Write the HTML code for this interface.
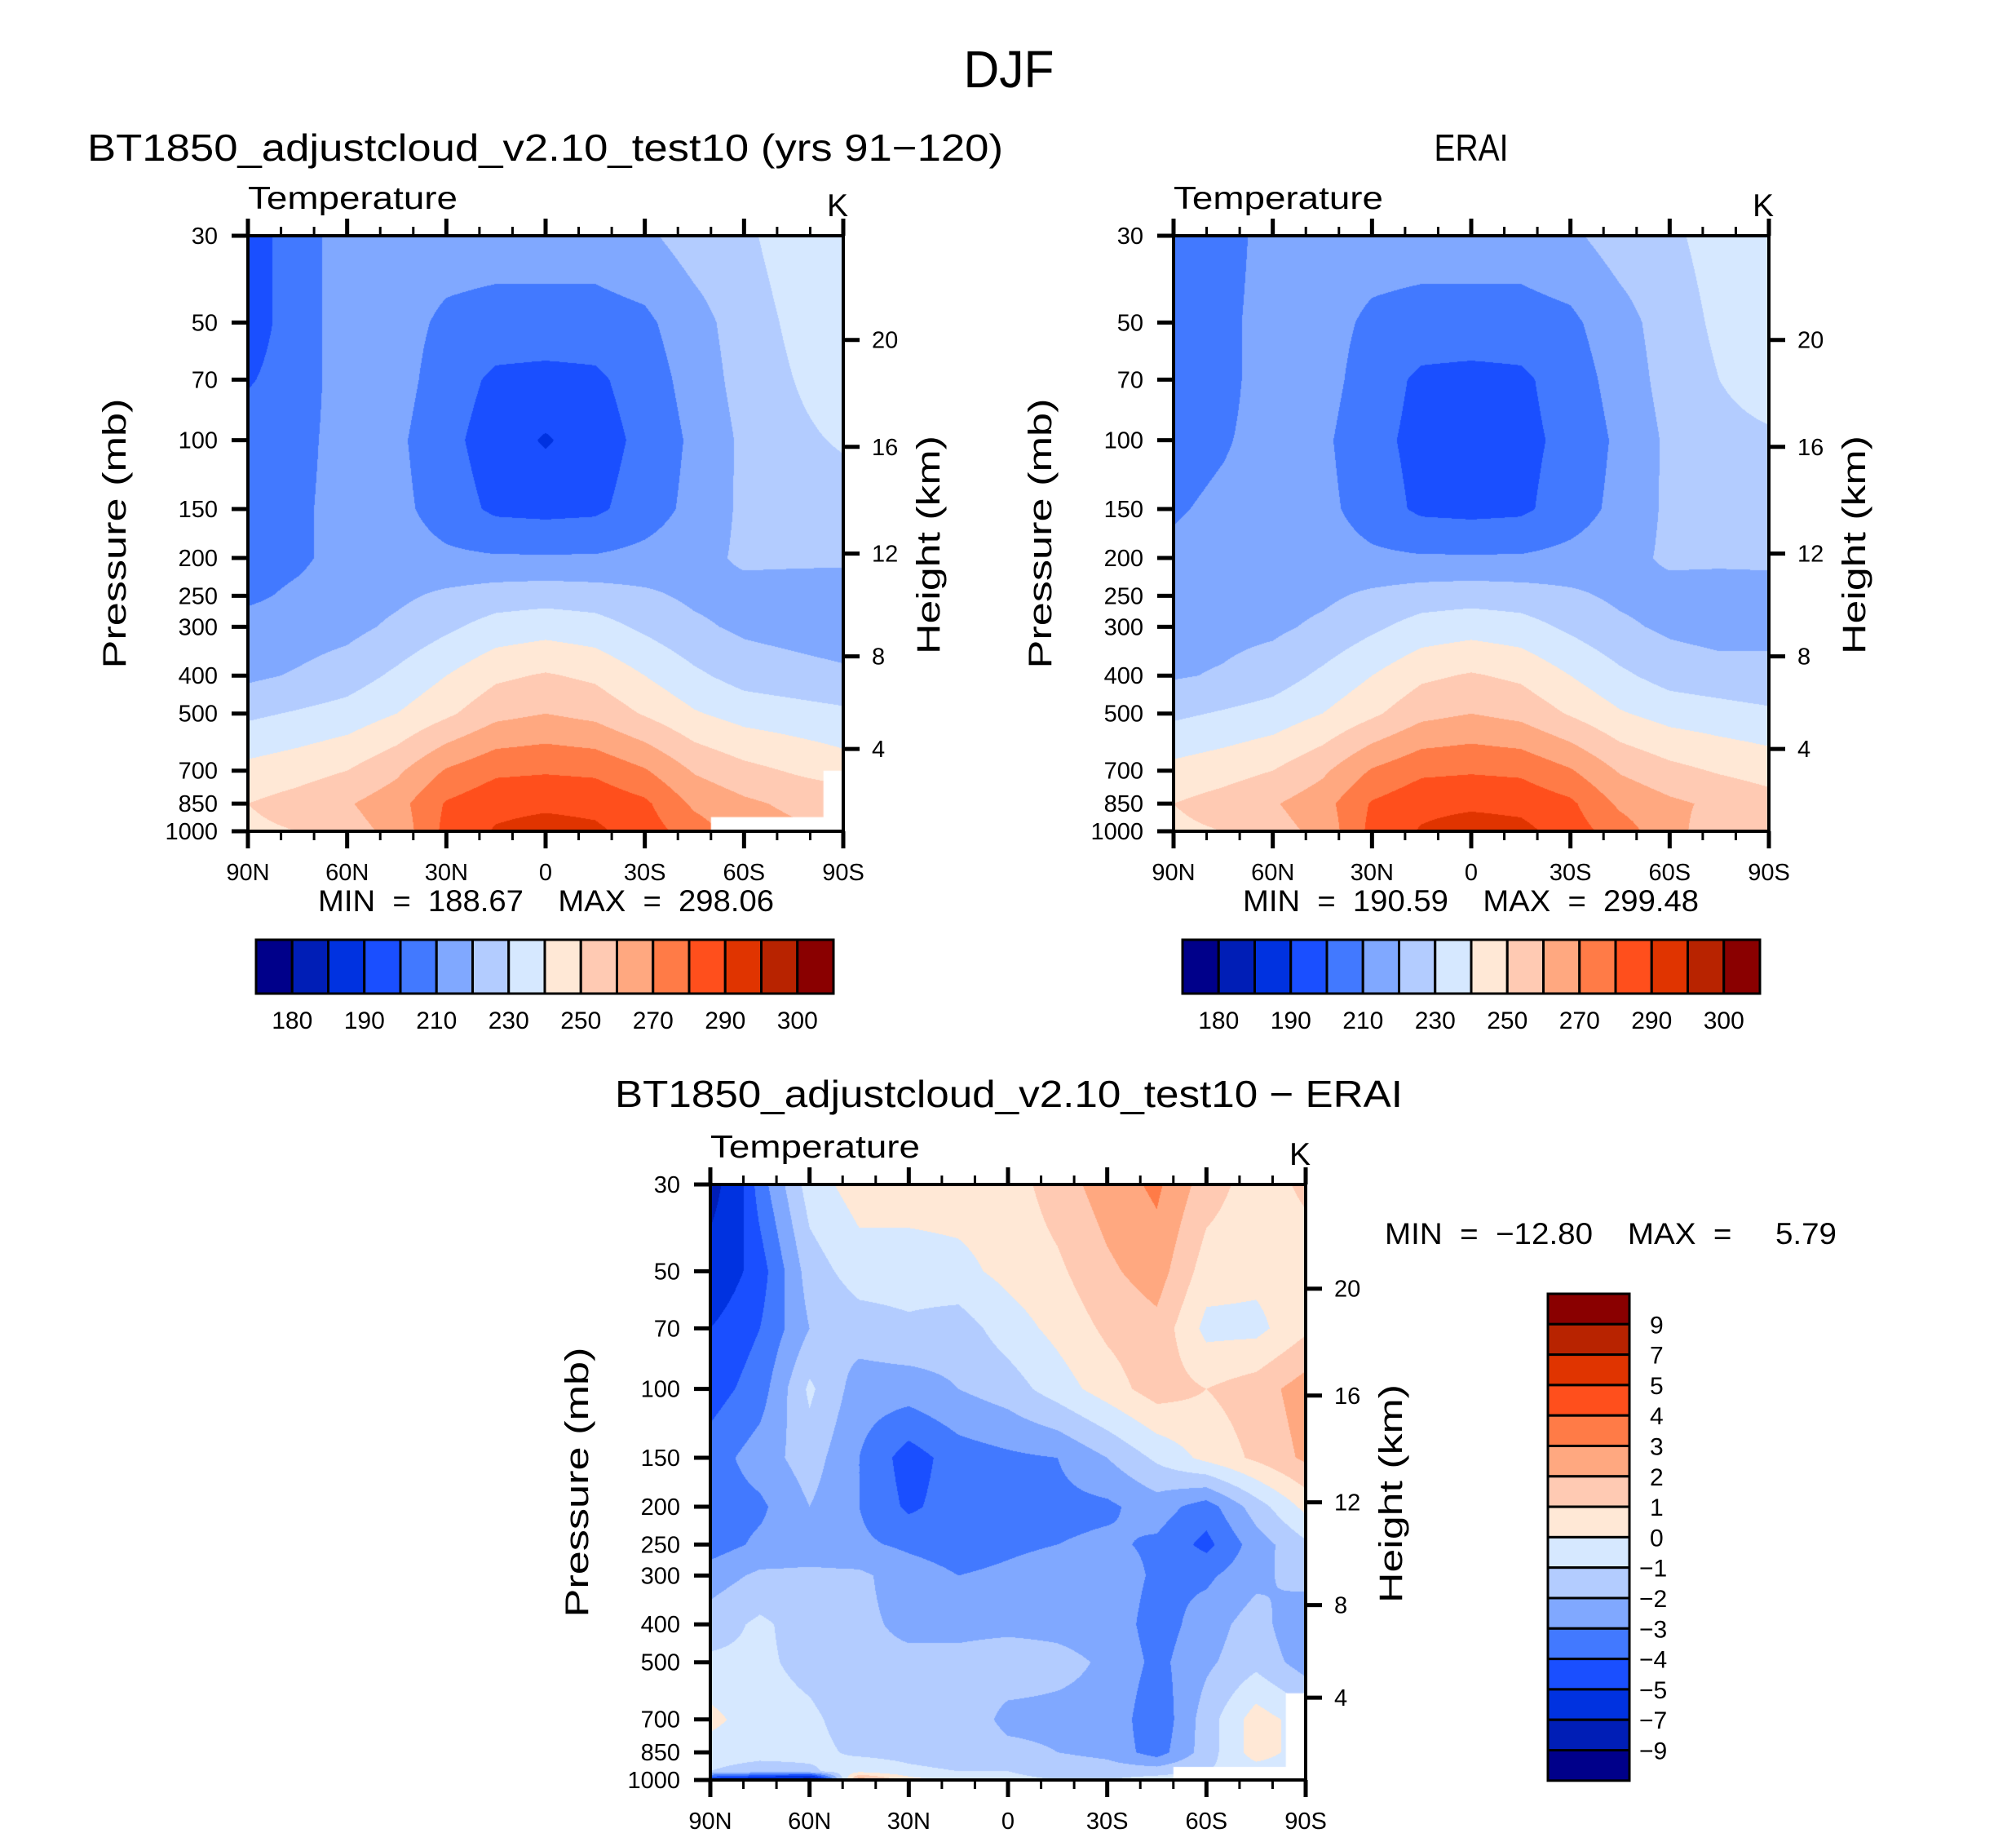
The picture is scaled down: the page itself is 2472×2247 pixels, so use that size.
<!DOCTYPE html>
<html><head><meta charset="utf-8">
<style>
html,body{margin:0;padding:0;background:#fff;}
#wrap{position:relative;width:2472px;height:2247px;overflow:hidden;background:#fff;}
canvas{position:absolute;}
svg{position:absolute;left:0;top:0;}
text{font-family:"Liberation Sans",sans-serif;fill:#000;}
</style></head>
<body>
<div id="wrap">
<canvas id="c1" width="730" height="730" style="left:304px;top:289px"></canvas>
<canvas id="c2" width="730" height="730" style="left:1439px;top:289px"></canvas>
<canvas id="c3" width="730" height="730" style="left:871px;top:1452px"></canvas>
<svg id="svg" width="2472" height="2247"></svg>
</div>
<script>
// ---------- data ----------
const lats = [90,75,60,45,30,15,0,-15,-30,-45,-60,-75,-90];
const tLevs = [30,50,70,100,150,200,250,300,400,500,700,850,1000];
const dLevs = [30,50,70,100,150,200,250,300,400,500,700,850,950,1000];
const tempLevels = [180,185,190,200,210,220,230,240,250,260,270,280,290,295,300];
const tempLabels = ["180","190","210","230","250","270","290","300"];
const diffLevels = [-9,-7,-5,-4,-3,-2,-1,0,1,2,3,4,5,7,9];
const diffLabels = ["-9","-7","-5","-4","-3","-2","-1","0","1","2","3","4","5","7","9"];
const palette = ["#00008a","#001eb6","#0032e0","#1a4fff","#4279ff","#80a8ff","#b3ccff","#d6e8ff",
                 "#ffe8d6","#ffcab3","#ffa880","#ff7b47","#ff4f1c","#e03400","#b82300","#8a0000"];
const pTicks = [30,50,70,100,150,200,250,300,400,500,700,850,1000];
const hTicks = [20,16,12,8,4];
const hTickP = [55.4,104,195,357,616];
const latTicks = [90,60,30,0,-30,-60,-90];
const latTickLabels = ["90N","60N","30N","0","30S","60S","90S"];

const modelT = [
 [195,205,215,215,215,215,215,215,218,225,228,235,235],
 [195,205,215,214,208,206,206,206,208,216,225,232,236],
 [199,205,215,214,205,198,197,198,205,214,224,230,235],
 [205,207,214,212,203,195,189,195,203,212,222,228,231],
 [205,208,214,213,205,198,197,198,205,213,222,225,226],
 [205,208,214,215,212,211,211,211,213,216,222,222,222],
 [208,212,215,218,222,225,226,225,222,218,216,215,214],
 [214,215,217,222,228,234,236,234,228,222,218,216,214],
 [218,221,225,232,240,248,251,248,240,232,226,224,222],
 [228,231,234,240,248,257,260,257,249,241,236,234,232],
 [243,246,250,258,271,278,279,278,271,259,253,249,245],
 [250,254,259,266,281,287,288,287,282,268,262,258,257],
 [248,250,256,263,283,291,294,292,285,275,265,262,260]
];
const eraiT = [
 [203,205,215,215,215,215,215,215,218,225,228,234,234],
 [203,207,215,214,208,206,206,206,208,216,225,232,234],
 [204,207,215,214,205,198,197,198,205,214,224,230,233],
 [206,209,214,212,203,197,195,197,203,212,222,228,229],
 [209,212,214,213,205,198,197,198,205,213,222,225,226],
 [212,214,215,215,212,211,211,211,213,216,222,222,222],
 [214,215,216,218,222,225,226,225,222,218,216,215,216],
 [216,217,218,222,228,234,236,234,228,222,218,216,218],
 [219,221,225,232,240,248,251,248,240,232,226,224,222],
 [228,231,234,240,248,257,260,257,249,241,236,234,232],
 [243,246,250,258,271,278,279,278,271,259,253,249,246],
 [250,254,259,266,281,287,288,287,282,268,262,258,254],
 [248,250,256,263,283,291,295,293,285,275,263,255,250]
];
const diffT = [
 [-8,-3.5,-0.5,0.5,0.5,0.5,0.5,1.5,2.5,3.2,1.5,0.5,1.2],
 [-6,-4.5,-1.5,-0.5,-0.5,-0.3,0.3,0.8,1.8,2.5,0.5,0.3,0.5],
 [-5,-4,-2,-1.5,-1.2,-1.5,-0.5,0.3,1.2,1.7,-0.3,-0.3,0.8],
 [-4.5,-3.5,-0.8,-2.5,-2.5,-2,-1.5,-0.5,0.5,1.5,1.0,1.5,2.5],
 [-3.5,-2.5,-1.5,-3,-4.5,-3.5,-3.2,-3,-2,-0.8,0.3,1.2,2.2],
 [-3.5,-3.2,-2,-3,-4.2,-3.5,-3.5,-3.3,-3.2,-2.5,-3.5,-1.5,0.3],
 [-3.5,-2.8,-2.5,-2.8,-3.2,-3.5,-3.2,-3.0,-2.8,-3.2,-4.3,-2.5,-1.2],
 [-2.5,-1.8,-1.8,-1.8,-2.5,-3,-2.8,-2.5,-2.3,-3.2,-3.2,-2.3,-1.5],
 [-1.5,-0.8,-1.5,-1.8,-2.2,-2.2,-2.2,-2.2,-2.3,-3.5,-2.5,-1.5,-3],
 [-0.8,-0.8,-1.3,-1.8,-1.8,-1.8,-1.6,-1.8,-2.1,-3.3,-2.2,-1.3,-2.5],
 [0.3,-0.6,-0.8,-1.5,-1.3,-1.5,-2.2,-2.2,-2.2,-3.8,-1.5,0.5,-0.5],
 [-0.5,-0.6,-0.7,-1.2,-1.3,-1.5,-1.8,-2.0,-2.3,-3.5,-1.5,0.5,-0.5],
 [-1,-1.5,-1.2,-0.3,-0.8,-1,-1,-1.3,-1.5,-1.5,-1,-0.5,-0.5],
 [-6,-7,-9,3,0.5,-0.5,-0.8,-1.0,-1.0,-0.5,0,0,0]
];
// missing-data regions: [lat1, lat2, p1, p2]
const modelMissing = [[-50,-84,920,1000],[-84,-90,700,1000]];
const diffMissing = [[-50,-84,926,1000],[-84,-90,600,1000]];

// ---------- rendering ----------
const P0 = 30, P1 = 1000, LR = Math.log(P1/P0);
function drawField(id, levs, vals, levels, missing){
  const cv = document.getElementById(id), ctx = cv.getContext('2d');
  const W = cv.width, H = cv.height;
  const img = ctx.createImageData(W,H);
  const rgb = palette.map(c=>[parseInt(c.substr(1,2),16),parseInt(c.substr(3,2),16),parseInt(c.substr(5,2),16)]);
  const lp = levs.map(p=>Math.log(p));
  const nl = lats.length;
  for(let y=0;y<H;y++){
    const p = P0*Math.exp((y+0.5)/H*LR), l = Math.log(p);
    let j=0; while(j<levs.length-2 && l>lp[j+1]) j++;
    let fy=(l-lp[j])/(lp[j+1]-lp[j]); fy=Math.max(0,Math.min(1,fy));
    for(let x=0;x<W;x++){
      const fx=(x+0.5)/W*(nl-1); let i=Math.min(nl-2,Math.floor(fx)); const tx=fx-i;
      const v=(vals[j][i]*(1-tx)+vals[j][i+1]*tx)*(1-fy)+(vals[j+1][i]*(1-tx)+vals[j+1][i+1]*tx)*fy;
      let k=0; while(k<levels.length && v>=levels[k]) k++;
      const c=rgb[k], o=(y*W+x)*4;
      img.data[o]=c[0];img.data[o+1]=c[1];img.data[o+2]=c[2];img.data[o+3]=255;
    }
  }
  ctx.putImageData(img,0,0);
  ctx.fillStyle='#fff';
  missing.forEach(m=>{
    const x1=(90-m[0])/180*W, x2=(90-m[1])/180*W;
    const y1=Math.log(m[2]/P0)/LR*H, y2=Math.log(m[3]/P0)/LR*H;
    ctx.fillRect(Math.min(x1,x2),y1,Math.abs(x2-x1)+1,y2-y1+1);
  });
}
drawField('c1',tLevs,modelT,tempLevels,modelMissing);
drawField('c2',tLevs,eraiT,tempLevels,[]);
drawField('c3',dLevs,diffT,diffLevels,diffMissing);

// ---------- svg overlay ----------
const svg=document.getElementById('svg'), NS='http://www.w3.org/2000/svg';
function el(tag,attrs,parent){const e=document.createElementNS(NS,tag);for(const k in attrs)e.setAttribute(k,attrs[k]);(parent||svg).appendChild(e);return e;}
function txt(s,attrs,parent){const e=el('text',attrs,parent);e.textContent=s;return e;}

function axes(name,X,Y,S){
  const g=el('g',{});
  
  
  const xs=lat=>X+(90-lat)/180*S, ys=p=>Y+Math.log(p/P0)/LR*S;
  el('rect',{x:X,y:Y,width:S,height:S,fill:'none',stroke:'#000','stroke-width':4},g);
  for(let lat=90;lat>=-90;lat-=10){
    const major=latTicks.indexOf(lat)>=0, L=major?21:11, w=major?5:3;
    el('line',{x1:xs(lat),x2:xs(lat),y1:Y+S,y2:Y+S+L,stroke:'#000','stroke-width':w},g);
    el('line',{x1:xs(lat),x2:xs(lat),y1:Y,y2:Y-L,stroke:'#000','stroke-width':w},g);
  }
  latTicks.forEach((lat,i)=>{
    const t=txt(latTickLabels[i],{x:xs(lat),y:Y+S+60,'font-size':29,'text-anchor':'middle'},g);
    
    
  });
  pTicks.forEach(p=>{
    el('line',{x1:X-20,x2:X,y1:ys(p),y2:ys(p),stroke:'#000','stroke-width':5},g);
    const t=txt(String(p),{x:X-37,y:ys(p)+10,'font-size':29,'text-anchor':'end'},g);
    
    
  });
  hTicks.forEach((h,i)=>{
    const yy=ys(hTickP[i]);
    el('line',{x1:X+S,x2:X+S+20,y1:yy,y2:yy,stroke:'#000','stroke-width':5},g);
    const t=txt(String(h),{x:X+S+35,y:yy+10,'font-size':29},g);
    
    
  });
  const t1=txt('Temperature',{x:X,y:Y-33,'font-size':39,textLength:257,lengthAdjust:'spacingAndGlyphs'},g);
  
  
  const t2=txt('K',{x:X+S-20,y:Y-24,'font-size':39},g);
  
  
  const cy=Y+S/2, px=X-150, hx=X+S+118;
  const t3=txt('Pressure  (mb)',{x:px,y:cy,'font-size':40,'text-anchor':'middle',transform:`rotate(-90 ${px} ${cy})`,textLength:331,lengthAdjust:'spacingAndGlyphs'},g);
  
  
  const t4=txt('Height  (km)',{x:hx,y:cy+14,'font-size':40,'text-anchor':'middle',transform:`rotate(-90 ${hx} ${cy+14})`,textLength:268,lengthAdjust:'spacingAndGlyphs'},g);
  
  
}
axes('model',304,289,730);
axes('erai',1439,289,730);
axes('diff',871,1452,730);

function hbar(name,X,Y,W,H){
  const g=el('g',{});
  
  
  const bw=W/palette.length;
  palette.forEach((c,i)=>{
    const r=el('rect',{x:X+i*bw,y:Y,width:bw,height:H,fill:c,stroke:'#000','stroke-width':3},g);
    
    
  });
  tempLabels.forEach((s,i)=>{
    const t=txt(s,{x:X+(1+2*i)*bw,y:Y+H+43,'font-size':30,'text-anchor':'middle'},g);
    
    
  });
}
hbar('model-colorbar',314,1152,708,66);
hbar('erai-colorbar',1450,1152,708,66);

(function(){
  const g=el('g',{});
  
  
  const X=1898,Y=1586,W=100,bh=37.3,n=palette.length;
  for(let i=0;i<n;i++){
    const r=el('rect',{x:X,y:Y+i*bh,width:W,height:bh,fill:palette[n-1-i],stroke:'#000','stroke-width':3},g);
    
    
  }
  for(let i=0;i<diffLabels.length;i++){
    const s=diffLabels[diffLabels.length-1-i].replace('-','\u2212');
    const t=txt(s,{x:s.startsWith('\u2212')?2010:2023,y:Y+(i+1)*bh+11,'font-size':30},g);
    
    
  }
})();

const T=[
 ['DJF',{x:1237,y:107,'font-size':64,'text-anchor':'middle',textLength:111,lengthAdjust:'spacingAndGlyphs'},'figure-title'],
 ['BT1850_adjustcloud_v2.10_test10 (yrs 91\u2212120)',{x:107,y:197,'font-size':46,textLength:1123,lengthAdjust:'spacingAndGlyphs'},'model-title'],
 ['ERAI',{x:1804,y:197,'font-size':46,'text-anchor':'middle',textLength:91,lengthAdjust:'spacingAndGlyphs'},'erai-title'],
 ['BT1850_adjustcloud_v2.10_test10 \u2212 ERAI',{x:754,y:1357,'font-size':46,textLength:966,lengthAdjust:'spacingAndGlyphs'},'diff-title'],
 ['MIN  =  188.67    MAX  =  298.06',{x:390,y:1117,'font-size':37,textLength:559,lengthAdjust:'spacingAndGlyphs'},'model-min-max'],
 ['MIN  =  190.59    MAX  =  299.48',{x:1524,y:1117,'font-size':37,textLength:559,lengthAdjust:'spacingAndGlyphs'},'erai-min-max'],
 ['MIN  =  \u221212.80    MAX  =     5.79',{x:1698,y:1525,'font-size':37,textLength:554,lengthAdjust:'spacingAndGlyphs'},'diff-min-max']
];
T.forEach(d=>{
  const t=txt(d[0],d[1]);
  
  
  t.setAttribute('xml:space','preserve');
  t.style.whiteSpace='pre';
});
</script>
</body></html>
